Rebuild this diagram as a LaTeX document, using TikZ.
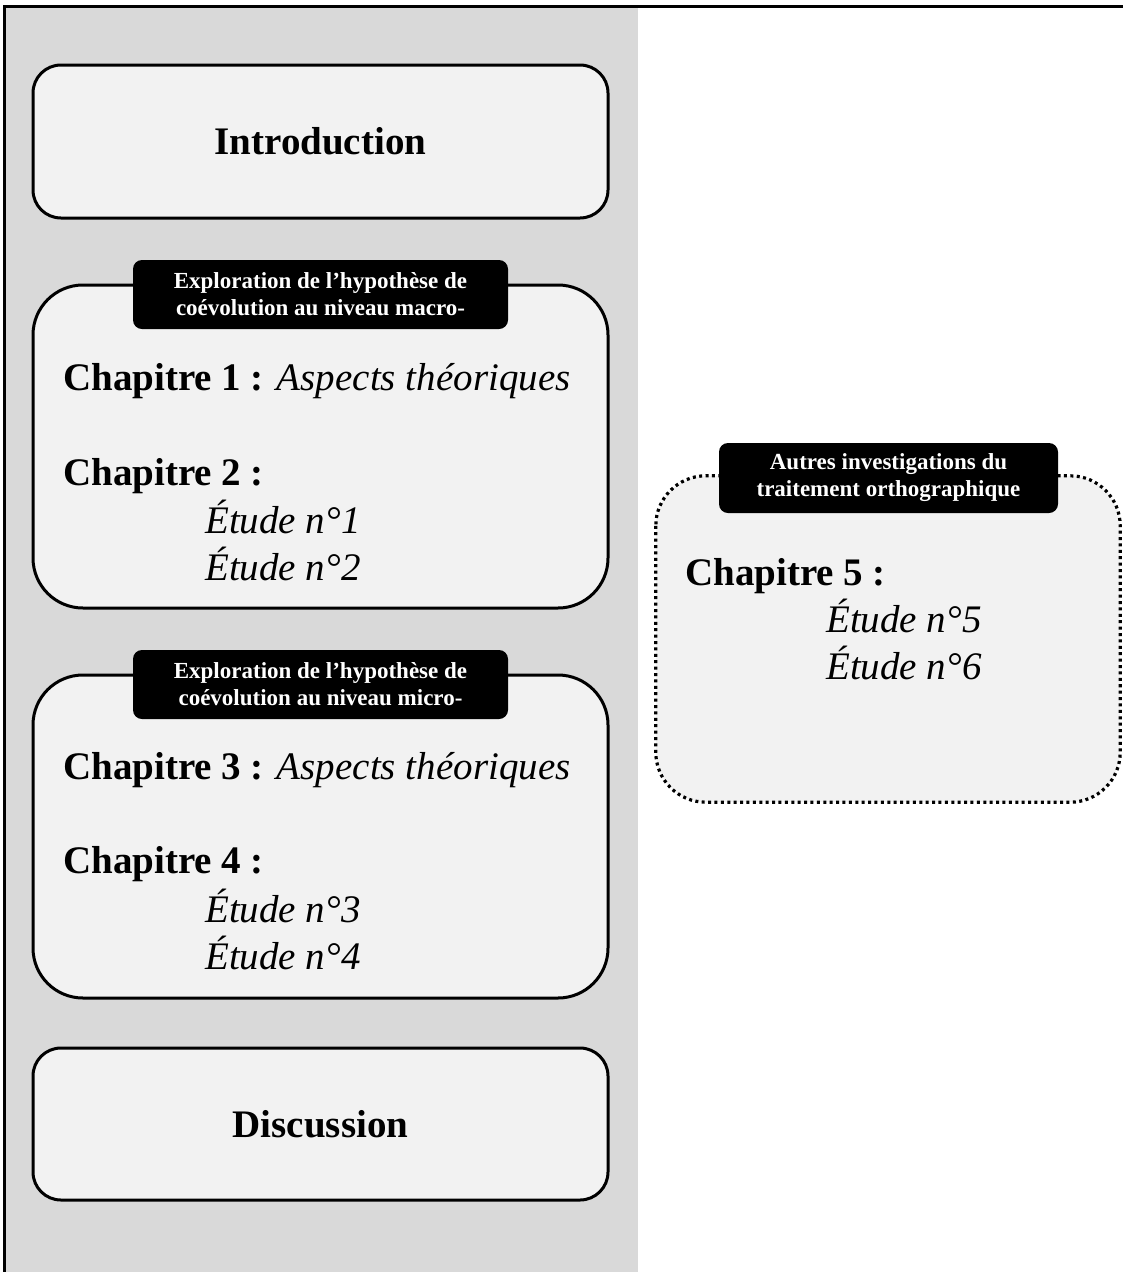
\documentclass[tikz,border=0pt]{standalone}
\usepackage{fontspec}
\setmainfont{Liberation Serif}
\definecolor{panelgray}{HTML}{D9D9D9}
\definecolor{boxfill}{HTML}{F2F2F2}
\begin{document}
\begin{tikzpicture}[x=1pt,y=-1pt,
  bigbox/.style={draw=black, line width=3pt, fill=boxfill, inner sep=0pt},
  dotfill/.style={fill=boxfill, inner sep=0pt},
  dotline/.style={draw=black, line width=3.2pt, dash pattern=on 3pt off 3.4pt},
  tag/.style={fill=black, rounded corners=9pt, text=white, align=center,
    font=\fontsize{23}{27}\selectfont\bfseries, inner sep=0pt},
  big/.style={font=\fontsize{39}{47}\selectfont, anchor=base west, inner sep=0pt},
  title/.style={font=\fontsize{39}{47}\selectfont\bfseries}
]
\useasboundingbox (0,0) rectangle (1123,1272);
% background panel
\fill[white] (0,0) rectangle (1123,1272);
\fill[panelgray] (5,7) rectangle (638,1272);
\draw[line width=2.5pt] (4.5,1272) -- (4.5,6.5) -- (1123,6.5);

% Introduction
\node[bigbox, rounded corners=28pt, minimum width=575pt, minimum height=153pt, title]
  (intro) at (320.5,141.5) {Introduction};

% Box 1
\node[bigbox, rounded corners=50pt, minimum width=575pt, minimum height=323pt]
  (b1) at (320.5,446.5) {};
\node[tag, minimum width=375pt, minimum height=69pt] (t1) at (320.5,294.5)
  {Exploration de l’hypothèse de\\coévolution au niveau macro-};
\node[big] (c1) at (63,390) {\textbf{Chapitre 1 :} \textit{Aspects théoriques}};
\node[big] (c2) at (63,485) {\textbf{Chapitre 2 :}};
\node[big] (e1) at (205,533) {\textit{Étude n°1}};
\node[big] (e2) at (205,580) {\textit{Étude n°2}};

% Box 2
\node[bigbox, rounded corners=50pt, minimum width=575pt, minimum height=323pt]
  (b2) at (320.5,836.5) {};
\node[tag, minimum width=375pt, minimum height=69pt] (t2) at (320.5,684.5)
  {Exploration de l’hypothèse de\\coévolution au niveau micro-};
\node[big] (c3) at (63,779) {\textbf{Chapitre 3 :} \textit{Aspects théoriques}};
\node[big] (c4) at (63,873) {\textbf{Chapitre 4 :}};
\node[big] (e3) at (205,922) {\textit{Étude n°3}};
\node[big] (e4) at (205,969) {\textit{Étude n°4}};

% Discussion
\node[bigbox, rounded corners=28pt, minimum width=575pt, minimum height=152pt, title]
  (disc) at (320.5,1124) {Discussion};

% Right dotted box
\node[dotfill, rounded corners=50pt, minimum width=464pt, minimum height=326pt]
  (b3) at (888,639) {};
\draw[dotline, rounded corners=50pt] (b3.north west) rectangle (b3.south east);
\node[tag, minimum width=339pt, minimum height=70pt] (t3) at (888.5,478)
  {Autres investigations du\\traitement orthographique};
\node[big] (c5) at (685,585) {\textbf{Chapitre 5 :}};
\node[big] (e5) at (826,632) {\textit{Étude n°5}};
\node[big] (e6) at (826,679) {\textit{Étude n°6}};
\end{tikzpicture}
\end{document}
